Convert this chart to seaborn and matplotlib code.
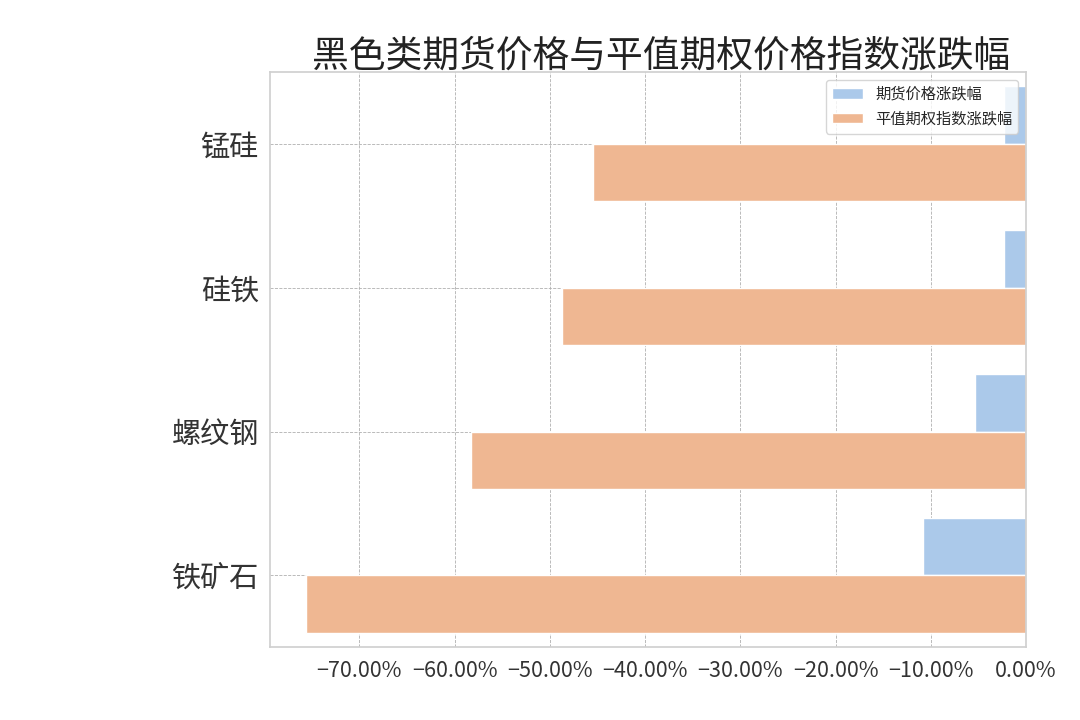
import matplotlib
matplotlib.use("Agg")
import matplotlib.pyplot as plt
import matplotlib.ticker as mticker
import seaborn as sns
import pandas as pd

categories = ["锰硅", "硅铁", "螺纹钢", "铁矿石"]
futures_change = [-0.023, -0.023, -0.054, -0.108]
option_index_change = [-0.455, -0.487, -0.583, -0.756]
series_names = ["期货价格涨跌幅", "平值期权指数涨跌幅"]
title = "黑色类期货价格与平值期权价格指数涨跌幅"

df = pd.DataFrame({
    "品种": categories * 2,
    "涨跌幅": futures_change + option_index_change,
    "类型": [series_names[0]] * len(categories) + [series_names[1]] * len(categories),
})

sns.set_theme(style="whitegrid", palette="pastel")
plt.rcParams["font.family"] = ["Noto Sans CJK SC", "DejaVu Sans"]
plt.rcParams["axes.unicode_minus"] = True

fig = plt.figure(figsize=(10.8, 7.2), dpi=100)
ax = fig.add_axes([0.25, 0.101, 0.7, 0.799])
sns.barplot(data=df, y="品种", x="涨跌幅", hue="类型", orient="h", ax=ax,
            order=categories, hue_order=series_names)

ax.grid(True, linestyle="--", linewidth=0.6, color="#b0b0b0")
ax.xaxis.set_major_locator(mticker.MultipleLocator(0.1))
ax.xaxis.set_major_formatter(mticker.FuncFormatter(lambda v, p: f"{v*100:.2f}%".replace("-", "\u2212")))
ax.set_xlabel("")
ax.set_ylabel("")
ax.tick_params(axis="x", labelsize=15.5, colors="#333333")
ax.tick_params(axis="y", labelsize=21, colors="#333333", pad=2)
for s in ax.spines.values():
    s.set_color("#d0d0d0")
ax.set_title(title, fontsize=26.5, color="#222222", pad=4, x=0.518)
ax.legend(loc="upper right", fontsize=11, frameon=True)

fig.savefig("out.png", dpi=100)
